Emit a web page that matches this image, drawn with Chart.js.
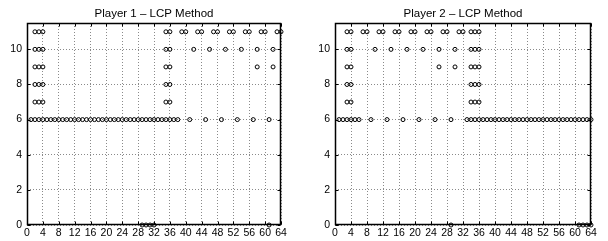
<!DOCTYPE html>
<html><head><meta charset="utf-8">
<script src="https://cdn.jsdelivr.net/npm/chart.js@4/dist/chart.umd.min.js"></script>
<style>
html,body{margin:0;padding:0;background:#fff;width:608px;height:241px;overflow:hidden}
canvas{position:absolute;top:0}
#c1{left:0}
#c2{left:304px}
</style></head><body>
<canvas id="c1" width="300" height="241"></canvas>
<canvas id="c2" width="304" height="241"></canvas>
<script>
// ---- tick labels ----
const xTicks = [0,4,8,12,16,20,24,28,32,36,40,44,48,52,56,60,64];
const yTicks = [0,2,4,6,8,10];
const titles = ["Player 1 \u2013 LCP Method", "Player 2 \u2013 LCP Method"];

// ---- Player 1: x positions of the markers in each row (row = y value) ----
const p1Row0  = [29,30,31,32,61];
const p1Row6  = [1,2,3,4,5,6,7,8,9,10,11,12,13,14,15,16,17,18,19,20,21,22,23,24,25,26,27,28,29,30,31,32,33,34,35,36,37,38,41,45,49,53,57,61];
const p1Row7  = [2,3,4,35,36];
const p1Row8  = [2,3,4,35,36];
const p1Row9  = [2,3,4,35,36,58,62];
const p1Row10 = [2,3,4,35,36,42,46,50,54,58,62];
const p1Row11 = [2,3,4,35,36,39,40,43,44,47,48,51,52,55,56,59,60,63,64];

// ---- Player 2 ----
const p2Row0  = [29,61,62,63,64];
const p2Row6  = [1,2,3,4,5,6,9,13,17,21,25,29,33,34,35,36,37,38,39,40,41,42,43,44,45,46,47,48,49,50,51,52,53,54,55,56,57,58,59,60,61,62,63,64];
const p2Row7  = [3,4,34,35,36];
const p2Row8  = [3,4,34,35,36];
const p2Row9  = [3,4,26,30,34,35,36];
const p2Row10 = [3,4,10,14,18,22,26,30,34,35,36];
const p2Row11 = [3,4,7,8,11,12,15,16,19,20,23,24,27,28,31,32,34,35,36];

const rowValues = [0,6,7,8,9,10,11];
const p1Rows = [p1Row0,p1Row6,p1Row7,p1Row8,p1Row9,p1Row10,p1Row11];
const p2Rows = [p2Row0,p2Row6,p2Row7,p2Row8,p2Row9,p2Row10,p2Row11];

const FONT = "'Liberation Sans', Arial, Helvetica, sans-serif";

const framePlugin = {
  id: 'frame',
  beforeDatasetsDraw(chart) {
    const {ctx, chartArea: a, scales: {x, y}} = chart;
    const L = Math.round(a.left) + 0.5, R = Math.round(a.right) - 0.5;
    const T = Math.round(a.top) + 0.5, B = Math.round(a.bottom) - 0.5;
    ctx.save();
    ctx.strokeStyle = '#000';
    ctx.lineWidth = 1;
    ctx.beginPath();
    xTicks.forEach(v => {
      const p = Math.round(x.getPixelForValue(v)) + 0.5;
      ctx.moveTo(p, B); ctx.lineTo(p, B - 3);
      ctx.moveTo(p, T); ctx.lineTo(p, T + 3);
    });
    yTicks.forEach(v => {
      const p = Math.round(y.getPixelForValue(v)) + 0.5;
      ctx.moveTo(L, p); ctx.lineTo(L + 3, p);
      ctx.moveTo(R, p); ctx.lineTo(R - 3, p);
    });
    ctx.stroke();
    ctx.lineWidth = 1.5;
    ctx.strokeRect(L, T, R - L, B - T);
    ctx.restore();
  }
};

function makeChart(id, rows, title, leftW, rightPad) {
  const datasets = rows.map((xs, i) => ({
    data: xs.map(v => ({x: v, y: rowValues[i]})),
    showLine: false,
    pointStyle: 'circle',
    pointRadius: 2,
    pointBorderWidth: 1,
    pointBorderColor: '#000',
    pointBackgroundColor: 'rgba(0,0,0,0)',
    clip: false
  }));
  new Chart(document.getElementById(id), {
    type: 'scatter',
    data: {datasets},
    options: {
      responsive: false,
      animation: false,
      devicePixelRatio: 1,
      events: [],
      layout: {padding: {left: 0, right: rightPad, top: 0, bottom: 0}},
      plugins: {
        legend: {display: false},
        tooltip: {enabled: false},
        title: {
          display: true, text: title, color: '#000', fullSize: false,
          font: {family: FONT, size: 11.5, weight: 'normal', lineHeight: 1.2},
          padding: {top: 7, bottom: 2.2}
        }
      },
      scales: {
        x: {
          type: 'linear', min: 0, max: 64,
          afterBuildTicks: s => { s.ticks = xTicks.map(v => ({value: v})); },
          afterFit: s => { s.height = 16; },
          grid: {color: '#8a8a8a', lineWidth: 1, drawTicks: false},
          border: {display: false, dash: [1, 2]},
          ticks: {color: '#000', autoSkip: false, maxRotation: 0, padding: 3,
                  font: {family: FONT, size: 10.5, lineHeight: 1}}
        },
        y: {
          type: 'linear', min: 0, max: 11.5,
          afterBuildTicks: s => { s.ticks = yTicks.map(v => ({value: v})); },
          afterFit: s => { s.width = leftW; },
          grid: {color: '#8a8a8a', lineWidth: 1, drawTicks: false},
          border: {display: false, dash: [1, 2]},
          ticks: {color: '#000', padding: 5,
                  font: {family: FONT, size: 10.5, lineHeight: 1}}
        }
      }
    },
    plugins: [framePlugin]
  });
}

makeChart('c1', p1Rows, titles[0], 27, 19);
makeChart('c2', p2Rows, titles[1], 31, 17);
</script>
</body></html>
